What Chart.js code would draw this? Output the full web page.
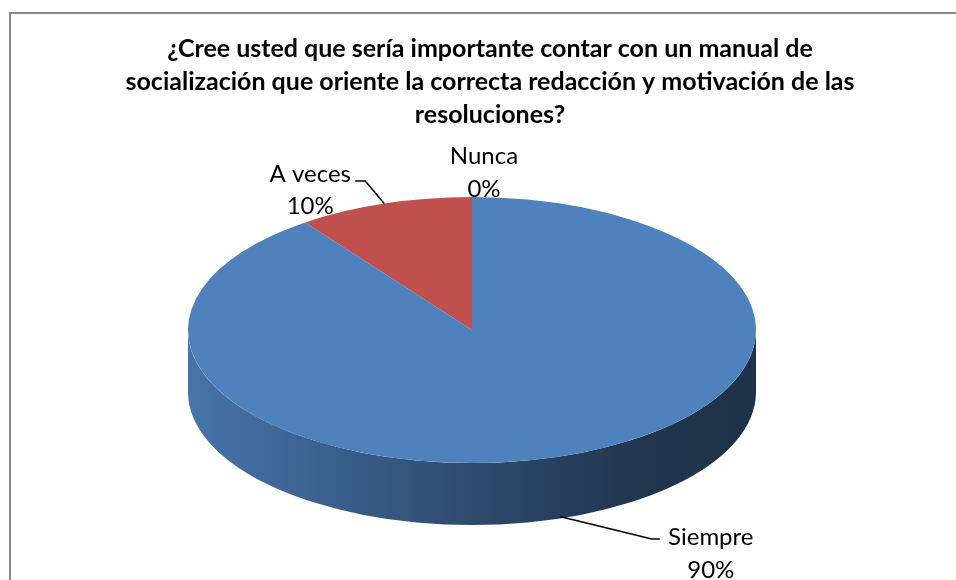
<!DOCTYPE html>
<html>
<head>
<meta charset="utf-8">
<style>
  html, body { margin: 0; padding: 0; background: #fff; overflow: hidden; }
  canvas { display: block; }
</style>
<script src="https://cdn.jsdelivr.net/npm/chart.js@4"></script>
</head>
<body>
<canvas id="chart" width="956" height="580"></canvas>
<script>
const titleLines = [
  '¿Cree usted que sería importante contar con un manual de',
  'socialización que oriente la correcta redacción y motivación de las',
  'resoluciones?'
];
const categories = ['Siempre', 'A veces', 'Nunca'];
const percentages = [90, 10, 0];
const sliceColors = ['#4F81BD', '#C0504D', '#9BBB59'];

// where the flattened pie sits on the page
const CX = 472, CY = 330, RX = 284, RY = 133, DEPTH = 62;

// label placement, relative to the slice's mid point on the rim
const labelLayout = [
  { drop: true,  dx: 151, dy: 29,  leader: [[92, 22.5], [100, 22.5]] },
  { drop: false, dx: -74, dy: -22, leader: [[-19, -22.5], [-29, -22.5]] },
  { drop: false, dx: 12,  dy: -33, leader: null }
];

function shade(hex, f) {
  const n = parseInt(hex.slice(1), 16);
  const r = Math.round(((n >> 16) & 255) * f);
  const g = Math.round(((n >> 8) & 255) * f);
  const b = Math.round((n & 255) * f);
  return `rgb(${r},${g},${b})`;
}

const pie3d = {
  id: 'pie3d',
  beforeDraw(chart) {
    const ctx = chart.ctx;
    ctx.save();
    ctx.strokeStyle = '#8a8a8a';
    ctx.lineWidth = 2;
    ctx.strokeRect(10, 13, 2000, 2000);
    ctx.restore();
  },
  beforeDatasetsDraw(chart) {
    const arcs = chart.getDatasetMeta(0).data;
    const ctx = chart.ctx;
    ctx.save();
    if (!arcs.length) return;
    const { x, y, outerRadius: r } = arcs[0];
    // squash the library's round pie into the tilted ellipse
    ctx.translate(CX, CY);
    ctx.scale(RX / r, RY / r);
    ctx.translate(-x, -y);
    const dl = DEPTH * r / RY;
    const colors = chart.data.datasets[0].backgroundColor;
    // side walls of the front half
    arcs.forEach((arc, i) => {
      for (const k of [-2 * Math.PI, 0, 2 * Math.PI]) {
        const a1 = Math.max(arc.startAngle, k);
        const a2 = Math.min(arc.endAngle, k + Math.PI);
        if (a2 <= a1) continue;
        const g = ctx.createLinearGradient(x - r, 0, x + r, 0);
        g.addColorStop(0, shade(colors[i], 0.9));
        g.addColorStop(0.5, shade(colors[i], 0.58));
        g.addColorStop(0.78, shade(colors[i], 0.42));
        g.addColorStop(1, shade(colors[i], 0.38));
        ctx.beginPath();
        ctx.arc(x, y, r, a1, a2);
        ctx.arc(x, y + dl, r, a2, a1, true);
        ctx.closePath();
        ctx.fillStyle = g;
        ctx.fill();
      }
    });
  },
  afterDatasetsDraw(chart) {
    const ctx = chart.ctx;
    ctx.restore();
    const arcs = chart.getDatasetMeta(0).data;
    ctx.save();
    ctx.font = '24px Lato';
    ctx.textAlign = 'center';
    ctx.textBaseline = 'alphabetic';
    ctx.fillStyle = '#000';
    ctx.strokeStyle = '#000';
    ctx.lineWidth = 1.5;
    arcs.forEach((arc, i) => {
      const lay = labelLayout[i];
      const mid = (arc.startAngle + arc.endAngle) / 2;
      const ax = CX + RX * Math.cos(mid);
      const ay = CY + RY * Math.sin(mid) + (lay.drop ? DEPTH - 2 : 0);
      if (lay.leader) {
        ctx.beginPath();
        ctx.moveTo(ax, ay);
        lay.leader.forEach(p => ctx.lineTo(ax + p[0], ay + p[1]));
        ctx.stroke();
      }
      const tx = ax + lay.dx, ty = ay + lay.dy;
      ctx.fillText(chart.data.labels[i], tx, ty);
      ctx.fillText(chart.data.datasets[0].data[i] + '%', tx, ty + 32.5);
    });
    ctx.restore();
  }
};

new Chart(document.getElementById('chart'), {
  type: 'pie',
  data: {
    labels: categories,
    datasets: [{
      data: percentages,
      backgroundColor: sliceColors,
      borderWidth: 0,
      clip: false
    }]
  },
  options: {
    responsive: false,
    devicePixelRatio: 1,
    animation: false,
    events: [],
    layout: { padding: { left: 24 } },
    plugins: {
      legend: { display: false },
      tooltip: { enabled: false },
      title: {
        display: true,
        text: titleLines,
        color: '#000',
        font: { family: 'Lato', size: 25, weight: 'bold', lineHeight: 33 / 25 },
        padding: { top: 32, bottom: 0 }
      }
    }
  },
  plugins: [pie3d]
});
</script>
</body>
</html>
